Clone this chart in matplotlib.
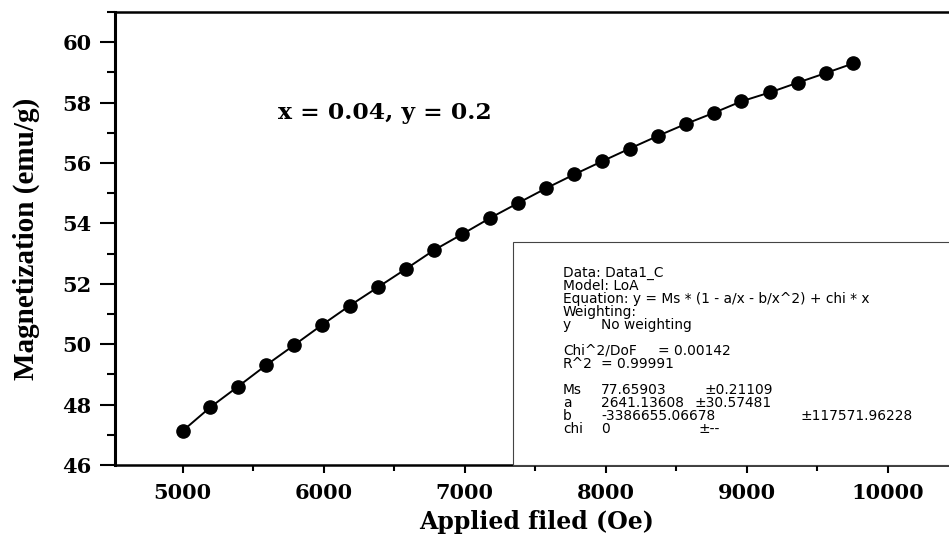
import matplotlib
matplotlib.use("Agg")
import matplotlib.pyplot as plt
from matplotlib.patches import Rectangle
from matplotlib.ticker import MultipleLocator

# Data
field = [5000, 5195, 5390, 5590, 5790, 5985, 6185, 6385, 6585, 6780,
         6980, 7180, 7380, 7575, 7775, 7975, 8170, 8370, 8570, 8765,
         8960, 9165, 9360, 9560, 9755]
magnetization = [47.13, 47.91, 48.59, 49.30, 49.97, 50.63, 51.28, 51.89, 52.50, 53.11,
                 53.64, 54.18, 54.68, 55.16, 55.62, 56.06, 56.48, 56.90, 57.30, 57.66,
                 58.04, 58.34, 58.66, 58.98, 59.30]
x_ticks = [5000, 6000, 7000, 8000, 9000, 10000]
y_ticks = [46, 48, 50, 52, 54, 56, 58, 60]

# (label, value, error) rows of the fit-result box
fit_lines = [
    ("Data: Data1_C", None, None),
    ("Model: LoA", None, None),
    ("Equation: y = Ms * (1 - a/x - b/x^2) + chi * x", None, None),
    ("Weighting:", None, None),
    ("y", "No weighting", None),
    ("", None, None),
    ("Chi^2/DoF", None, "= 0.00142"),
    ("R^2", "= 0.99991", None),
    ("", None, None),
    ("Ms", "77.65903", "±0.21109"),
    ("a", "2641.13608", "±30.57481"),
    ("b", "-3386655.06678", "±117571.96228"),
    ("chi", "0", "±--"),
]

W, H = 949, 542
fig = plt.figure(figsize=(W / 100, H / 100), dpi=100)
fig.patch.set_facecolor("white")

xmin, xmax = 4520, 10500
px_per = 141.06 / 1000.0
left_px = 115
right_px = left_px + (xmax - xmin) * px_per
top_px, bot_px = 12, 465
ax = fig.add_axes([left_px / W, 1 - bot_px / H, (right_px - left_px) / W, (bot_px - top_px) / H])

ax.plot(field, magnetization, color="black", lw=1.4, marker="o", markersize=9.5,
        markerfacecolor="black", markeredgecolor="black", zorder=3)

ax.set_xlim(xmin, xmax)
ax.set_ylim(46, 61)
ax.set_xticks(x_ticks)
ax.set_yticks(y_ticks)
ax.xaxis.set_minor_locator(MultipleLocator(500))
ax.yaxis.set_minor_locator(MultipleLocator(1))

serif_wide = "DejaVu Serif"
serif = "Liberation Serif"
for lab in ax.get_xticklabels() + ax.get_yticklabels():
    lab.set_fontfamily(serif_wide)
    lab.set_fontweight("bold")
    lab.set_fontsize(15)

ax.tick_params(axis="y", which="major", direction="out", length=10.8, width=1.5, pad=6)
ax.tick_params(axis="y", which="minor", direction="out", length=6, width=1.5)
ax.tick_params(axis="x", which="major", direction="out", length=6, width=1.5, pad=7)
ax.tick_params(axis="x", which="minor", direction="out", length=4, width=1.5)
ax.tick_params(top=False, right=False, which="both")

for s in ["left", "top", "bottom"]:
    ax.spines[s].set_linewidth(1.8)
ax.spines["left"].set_linewidth(2.2)
ax.spines["right"].set_visible(False)

ax.set_xlabel("Applied filed (Oe)", fontfamily=serif_wide, fontweight="bold", fontsize=17, labelpad=5)
ax.set_ylabel("Magnetization (emu/g)", fontfamily=serif, fontweight="bold", fontsize=21, labelpad=16)

fig.text(278 / W, 1 - 113 / H, "x = 0.04, y = 0.2", fontfamily=serif_wide, fontweight="bold",
         fontsize=16.8, ha="left", va="center")

# Fit-result box
box = Rectangle((512.7 / W, 1 - bot_px / H), (W + 20 - 512.7) / W, (bot_px - 241.7) / H,
                transform=fig.transFigure, facecolor="white", edgecolor="#444444",
                linewidth=0.8, zorder=5)
fig.add_artist(box)

sans = "DejaVu Sans"
fs = 9.9
y0 = 273
dy = 13
col0, col1 = 563, 601
err_x = {"Chi^2/DoF": 658, "Ms": 705, "a": 694, "b": 800, "chi": 698}
for i, (a, b, c) in enumerate(fit_lines):
    yy = 1 - (y0 + i * dy) / H
    if a:
        fig.text(col0 / W, yy, a, fontfamily=sans, fontsize=fs, va="center", ha="left", zorder=6)
    if b:
        fig.text(col1 / W, yy, b, fontfamily=sans, fontsize=fs, va="center", ha="left", zorder=6)
    if c:
        fig.text(err_x[a] / W, yy, c, fontfamily=sans, fontsize=fs, va="center", ha="left", zorder=6)

fig.savefig("out.png", dpi=100, facecolor="white")
